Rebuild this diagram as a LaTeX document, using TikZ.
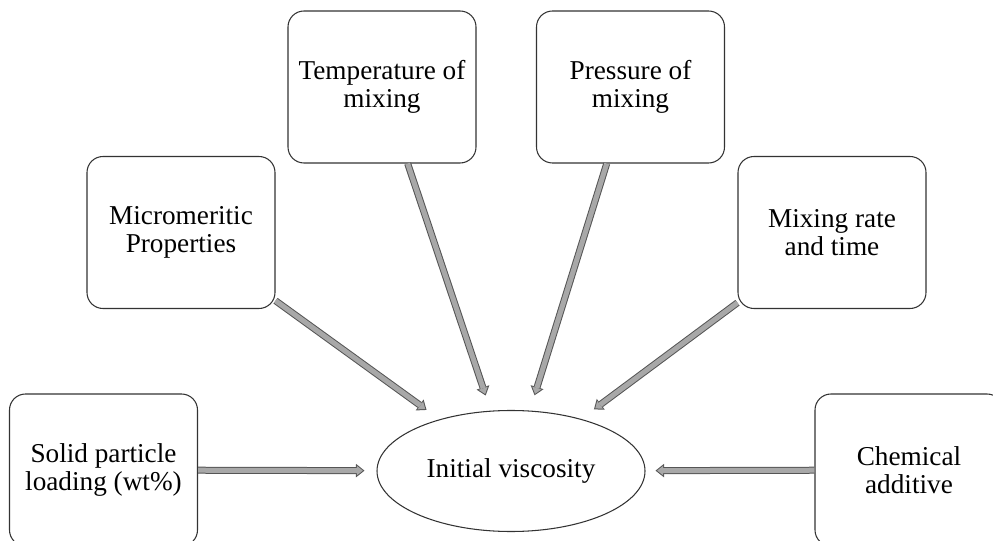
\documentclass[tikz,border=0pt]{standalone}
\usepackage{fontspec}
\setmainfont{Liberation Serif}
\usetikzlibrary{arrows.meta,positioning,shapes.geometric}
\tikzset{
  every node/.append style={font=\fontsize{15.5}{16}\selectfont},
}

\begin{document}
\begin{tikzpicture}[
    x=0.2mm, y=-0.2mm,
    factor/.style={
        rectangle,
        draw=black!80,
        line width=0.6pt,
        rounded corners=3.2mm,
        minimum width=37.6mm,
        minimum height=30.4mm,
        align=center,
        inner sep=2pt
    },
    target/.style={
        ellipse,
        draw=black!80,
        line width=0.6pt,
        minimum width=53.6mm,
        minimum height=24.2mm,
        inner sep=0pt
    },
    feed/.style={
        draw=feedgray,
        line width=1mm,
        shorten >=#1+0.32mm,
        -{Triangle[length=1.2mm, width=1.9mm, line width=0pt]},
        preaction={
            draw=feededge,
            line width=1.4mm,
            shorten >=#1,
            -{Triangle[length=1.7mm, width=2.7mm, line width=0pt]}
        }
    },
    feed/.default=3.2mm
]
% Color definitions
\definecolor{feedgray}{RGB}{168,168,168}
\definecolor{feededge}{RGB}{85,85,85}

\useasboundingbox (0,0) rectangle (993,541);

% Nodes
\node[target] (viscosity) at (511,471) {Initial viscosity};
\node[factor] (solid) at (103.5,470) {Solid particle\\loading (wt\%)};
\node[factor] (micro) at (181,232.5) {Micromeritic\\Properties};
\node[factor] (temperature) at (382,87) {Temperature of\\mixing};
\node[factor] (pressure) at (630.5,87) {Pressure of\\mixing};
\node[factor] (mixrate) at (832,232.5) {Mixing rate\\and time};
\node[factor] (chemical) at (909,470) {Chemical\\additive};

% Arrows
\draw[feed=2.4mm] (solid) -- (viscosity);
\draw[feed] (micro) -- (viscosity);
\draw[feed] (temperature) -- (viscosity);
\draw[feed] (pressure) -- (viscosity);
\draw[feed] (mixrate) -- (viscosity);
\draw[feed=2mm] (chemical) -- (viscosity);

\end{tikzpicture}
\end{document}
